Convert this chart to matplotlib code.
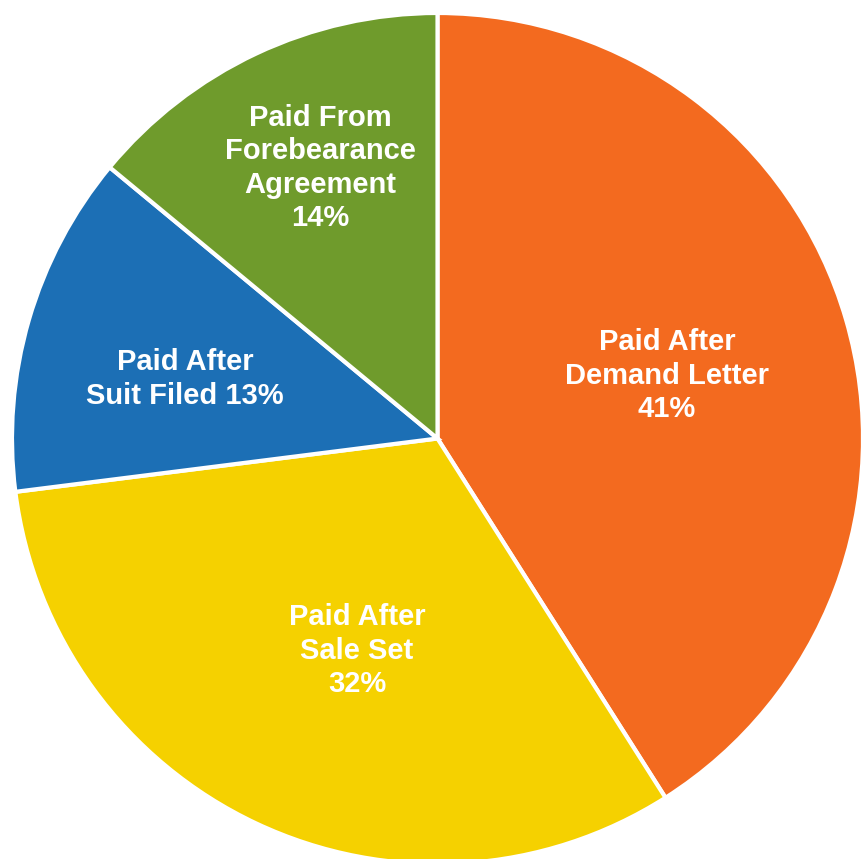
import matplotlib.pyplot as plt

# slice data, clockwise from 12 o'clock
labels = ["Paid After\nDemand Letter\n41%", "Paid After\nSale Set\n32%",
          "Paid After\nSuit Filed 13%", "Paid From\nForebearance\nAgreement\n14%"]
shares = [41, 32, 13, 14]
colors = ["#F36A1F", "#F5D100", "#1C6FB5", "#6F9B2C"]

# label centres in pie units (radius = 1)
label_pos = [(0.539, 0.147), (-0.189, -0.499), (-0.593, 0.140), (-0.276, 0.636)]

W, H = 865, 859
cx, cy, R = 437.5, 438.5, 425.5   # pie centre / radius in pixels

fig = plt.figure(figsize=(W / 100, H / 100), dpi=100)
ax = fig.add_axes([0, 0, 1, 1])
ax.pie(shares, colors=colors, startangle=90, counterclock=False, radius=1,
       wedgeprops=dict(edgecolor="white", linewidth=3))

for txt, (x, y) in zip(labels, label_pos):
    ax.text(x, y, txt, ha="center", va="center", multialignment="center",
            color="white", fontsize=21, fontweight="bold",
            family=["Liberation Sans", "DejaVu Sans"], linespacing=1.25)

ax.set_xlim(-cx / R, (W - cx) / R)
ax.set_ylim((cy - H) / R, cy / R)
ax.set_aspect("auto")
ax.axis("off")

fig.savefig("out.png", dpi=100, facecolor="white")
